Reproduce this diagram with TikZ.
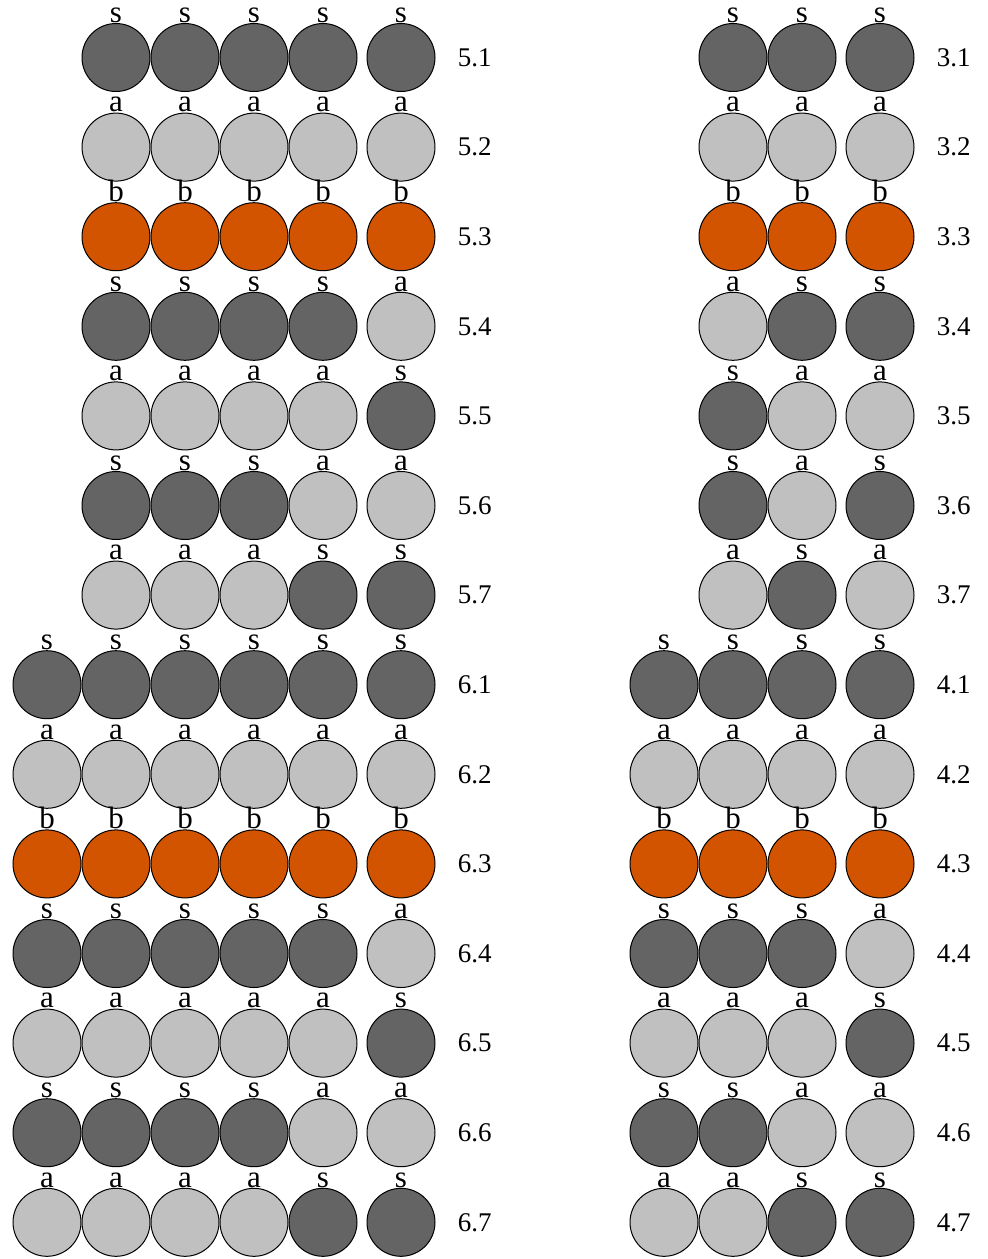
\documentclass[tikz,border=0pt]{standalone}
\usepackage{fontspec}
\setmainfont{Liberation Serif}
\usetikzlibrary{positioning}
\definecolor{cols}{RGB}{100,100,100}
\definecolor{cola}{RGB}{192,192,192}
\definecolor{colb}{RGB}{211,84,0}

\begin{document}
\begin{tikzpicture}[x=0.5pt,y=-0.5pt,
    disc/.style={circle,draw=black,line width=0.5pt,minimum size=34pt,inner sep=0pt},
    tag/.style={anchor=south,inner sep=0pt,font=\fontsize{15.5}{17}\selectfont},
    num/.style={anchor=west,inner sep=0pt,font=\fontsize{13.5}{16}\selectfont}]
  \useasboundingbox (0,0) rectangle (988,1259);
  % last x / circles / row / label / letters
  \foreach \L/\n/\k/\lab/\seq [count=\r] in {
      401/5/1/5.1/{s,s,s,s,s},
      401/5/2/5.2/{a,a,a,a,a},
      401/5/3/5.3/{b,b,b,b,b},
      401/5/4/5.4/{s,s,s,s,a},
      401/5/5/5.5/{a,a,a,a,s},
      401/5/6/5.6/{s,s,s,a,a},
      401/5/7/5.7/{a,a,a,s,s},
      401/6/8/6.1/{s,s,s,s,s,s},
      401/6/9/6.2/{a,a,a,a,a,a},
      401/6/10/6.3/{b,b,b,b,b,b},
      401/6/11/6.4/{s,s,s,s,s,a},
      401/6/12/6.5/{a,a,a,a,a,s},
      401/6/13/6.6/{s,s,s,s,a,a},
      401/6/14/6.7/{a,a,a,a,s,s},
      880/3/1/3.1/{s,s,s},
      880/3/2/3.2/{a,a,a},
      880/3/3/3.3/{b,b,b},
      880/3/4/3.4/{a,s,s},
      880/3/5/3.5/{s,a,a},
      880/3/6/3.6/{s,a,s},
      880/3/7/3.7/{a,s,a},
      880/4/8/4.1/{s,s,s,s},
      880/4/9/4.2/{a,a,a,a},
      880/4/10/4.3/{b,b,b,b},
      880/4/11/4.4/{s,s,s,a},
      880/4/12/4.5/{a,a,a,s},
      880/4/13/4.6/{s,s,a,a},
      880/4/14/4.7/{a,a,s,s}}{
    \pgfmathsetmacro\yy{57.5+89.6*(\k-1)}
    \foreach \c [count=\i] in \seq {
      \pgfmathsetmacro\xx{ifthenelse(\i<\n,\L-78-69*(\n-1-\i),\L)}
      \node[disc,fill=col\c] (c\r-\i) at (\xx,\yy) {};
      \node[tag] (t\r-\i) at (c\r-\i.north) {\c};
    }
    \node[num,right=11pt of c\r-\n] (l\r) {\lab};
  }
\end{tikzpicture}
\end{document}
